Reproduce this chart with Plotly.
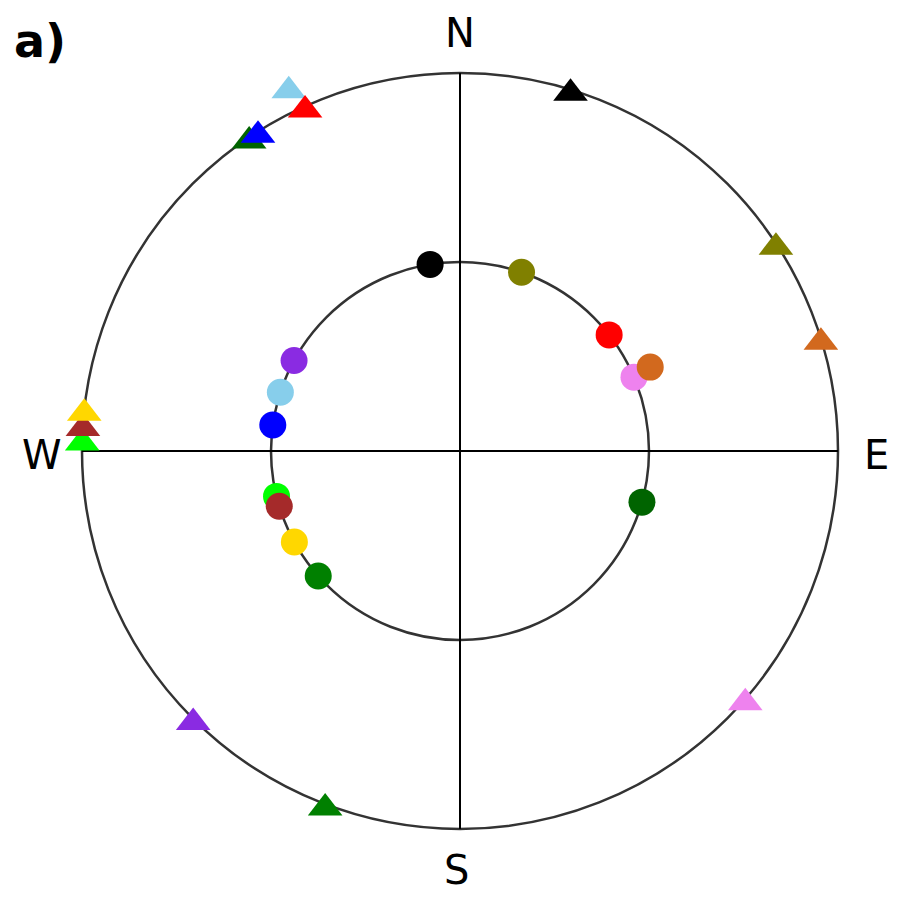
import numpy as np
import plotly.graph_objects as go

# Site colours; each site has one triangle (outer ring) and one dot (inner ring)
colors = ["lime", "brown", "gold", "green", "darkgreen", "skyblue", "blue",
          "red", "violet", "chocolate", "olive", "black", "blueviolet"]

# Azimuths in degrees, clockwise from north
tri_azimuth = [271.8, 274.0, 276.3, 200.9, 326.1, 334.8, 327.7,
               335.8, 131.0, 72.7, 56.7, 17.0, 224.9]
tri_radius = [1.0, 1.0, 1.0, 1.0, 1.0, 1.064, 1.0,
              1.0, 1.0, 1.0, 1.0, 1.0, 1.0]

dot_azimuth = [256.1, 253.0, 241.2, 228.6, 105.7, 288.1, 277.9,
               52.1, 67.0, 66.2, 19.0, 350.9, 298.6]
dot_radius = [0.5, 0.5, 0.5, 0.5, 0.5, 0.5, 0.5,
              0.5, 0.5, 0.55, 0.5, 0.5, 0.5]

compass = ["N", "E", "S", "W"]


def to_xy(az, r):
    a = np.radians(np.asarray(az, dtype=float))
    r = np.asarray(r, dtype=float)
    return r * np.sin(a), r * np.cos(a)


W, H = 899, 898
cx, cy, R = 460, 451, 378  # centre and outer radius in pixels
x_range = [-cx / R, (W - cx) / R]
y_range = [-(H - cy) / R, cy / R]

tri_size = 30
# triangle glyphs sit a little above their anchor; this axis recentres them
tri_shift = 0.25 * (tri_size / 2) / R

fig = go.Figure()

tx, ty = to_xy(tri_azimuth, tri_radius)
fig.add_trace(go.Scatter(
    x=tx, y=ty, mode="markers", yaxis="y2",
    marker=dict(symbol="triangle-up", size=tri_size, color=colors, line=dict(width=0)),
    hoverinfo="skip", showlegend=False,
))

dx, dy = to_xy(dot_azimuth, dot_radius)
fig.add_trace(go.Scatter(
    x=dx, y=dy, mode="markers",
    marker=dict(symbol="circle", size=27, color=colors, line=dict(width=0)),
    hoverinfo="skip", showlegend=False,
))

ring = dict(color="#333333", width=2.5)
axis_line = dict(color="black", width=2)
fig.add_shape(type="circle", x0=-1, y0=-1, x1=1, y1=1, xref="x", yref="y",
              line=ring, layer="below")
fig.add_shape(type="circle", x0=-0.5, y0=-0.5, x1=0.5, y1=0.5, xref="x", yref="y",
              line=ring, layer="below")
fig.add_shape(type="line", x0=0, y0=-1, x1=0, y1=1, xref="x", yref="y",
              line=axis_line, layer="below")
fig.add_shape(type="line", x0=-1, y0=0, x1=1, y1=0, xref="x", yref="y",
              line=axis_line, layer="below")

label_font = dict(family="DejaVu Sans", size=40, color="black")
label_pos = {"N": (0, 1.106), "E": (1.102, -0.01), "S": (-0.008, -1.108), "W": (-1.106, -0.01)}
for lab in compass:
    x, y = label_pos[lab]
    fig.add_annotation(x=x, y=y, xref="x", yref="y", text=lab, showarrow=False,
                       font=label_font, xanchor="center", yanchor="middle")

# panel tag in the top-left corner
fig.add_annotation(x=12 / W, y=1 - 12 / H, xref="paper", yref="paper", text="<b>a)</b>",
                   showarrow=False, font=dict(family="DejaVu Sans", size=46, color="black"),
                   xanchor="left", yanchor="top")

hidden = dict(visible=False, showgrid=False, zeroline=False, fixedrange=True)
fig.update_layout(
    width=W, height=H,
    margin=dict(l=0, r=0, t=0, b=0),
    paper_bgcolor="white", plot_bgcolor="white",
    xaxis=dict(range=x_range, **hidden),
    yaxis=dict(range=y_range, **hidden),
    yaxis2=dict(range=[y_range[0] + tri_shift, y_range[1] + tri_shift],
                overlaying="y", **hidden),
)

fig.write_html("out.html")
